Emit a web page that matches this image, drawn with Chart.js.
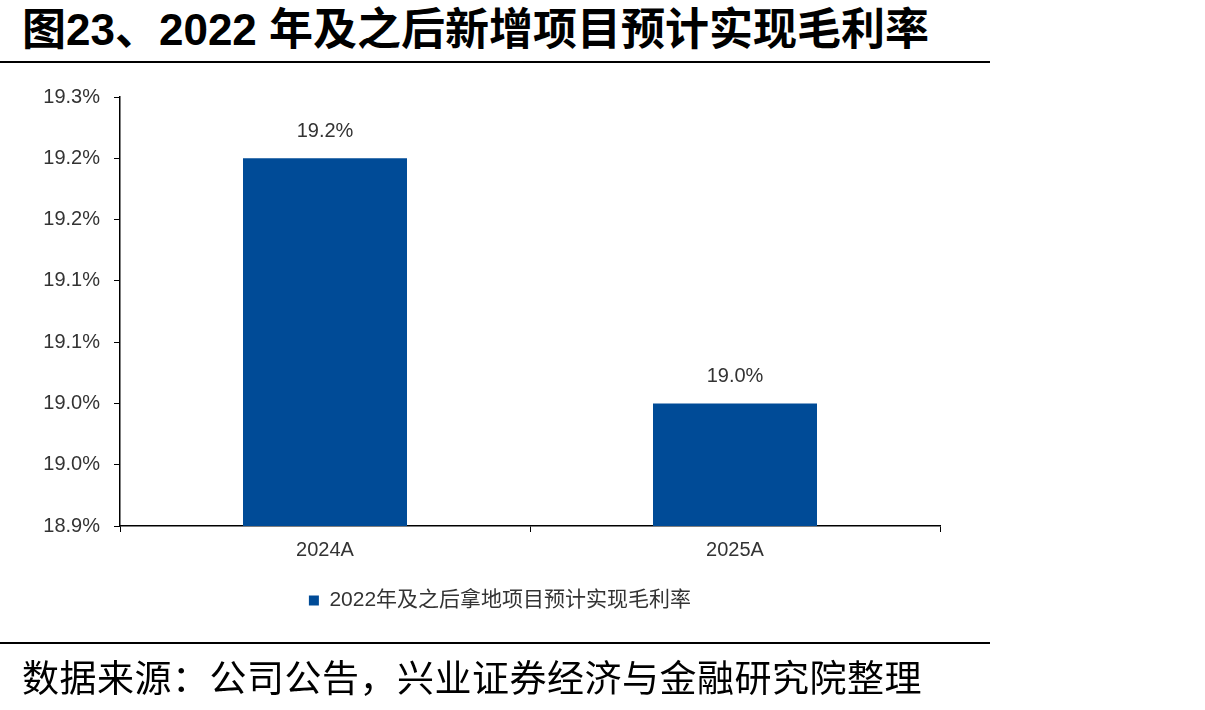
<!DOCTYPE html>
<html>
<head>
<meta charset="utf-8">
<script src="https://cdn.jsdelivr.net/npm/chart.js@4/dist/chart.umd.min.js"></script>
<style>
  html, body { margin: 0; padding: 0; background: #fff; }
  #wrap { position: relative; width: 1205px; height: 710px; overflow: hidden; }
  #title {
    position: absolute; left: 22px; top: 8px; line-height: 44px;
    font-family: "Liberation Sans", "Noto Sans CJK SC", sans-serif;
    font-weight: bold; font-size: 44px; color: #000; white-space: nowrap;
  }
  .rule { position: absolute; left: 0; width: 990px; height: 2px; background: #000; }
  #source {
    position: absolute; left: 22px; top: 656px; line-height: 40px;
    font-family: "Noto Sans CJK SC", sans-serif; font-size: 37px; letter-spacing: 0.5px;
    color: #000; white-space: nowrap;
  }
  canvas { position: absolute; left: 0; top: 0; }
</style>
</head>
<body>
<div id="wrap">
  <div id="title">图23、2022 年及之后新增项目预计实现毛利率</div>
  <div class="rule" style="top:61px"></div>
  <canvas id="chart" width="1205" height="710"></canvas>
  <div class="rule" style="top:642px"></div>
  <div id="source">数据来源：公司公告，兴业证券经济与金融研究院整理</div>
</div>
<script>
// values
const categories = ['2024A', '2025A'];
const seriesName = '2022年及之后拿地项目预计实现毛利率';
const margins = [19.2, 19.0];
const yTickLabels = ['18.9%', '19.0%', '19.0%', '19.1%', '19.1%', '19.2%', '19.2%', '19.3%'];

const txtFont = '"Liberation Sans", "Noto Sans CJK SC", sans-serif';

// value labels above the bars
const barLabels = {
  id: 'barLabels',
  afterDatasetsDraw(chart) {
    const ctx = chart.ctx;
    const meta = chart.getDatasetMeta(0);
    ctx.save();
    ctx.font = '20px ' + txtFont;
    ctx.fillStyle = '#333';
    ctx.textAlign = 'center';
    ctx.textBaseline = 'middle';
    meta.data.forEach((bar, i) => {
      ctx.fillText(margins[i].toFixed(1) + '%', bar.x, bar.y - 27);
    });
    ctx.restore();
  }
};

new Chart(document.getElementById('chart'), {
  type: 'bar',
  data: {
    labels: categories,
    datasets: [{
      label: seriesName,
      data: margins,
      backgroundColor: '#004B97',
      borderWidth: 0,
      categoryPercentage: 1,
      barPercentage: 0.4
    }]
  },
  options: {
    responsive: false,
    animation: false,
    devicePixelRatio: 1,
    layout: { padding: { left: 0, right: 205, top: 97, bottom: 89 } },
    plugins: {
      tooltip: { enabled: false },
      legend: {
        position: 'bottom',
        labels: {
          color: '#333',
          font: { family: txtFont, size: 21 },
          boxWidth: 10,
          boxHeight: 10,
          padding: 14
        }
      }
    },
    scales: {
      x: {
        grid: { drawOnChartArea: false, drawTicks: true, tickLength: 6, tickColor: '#000' },
        border: { display: true, color: '#000', width: 1.5 },
        ticks: { color: '#333', font: { family: txtFont, size: 20 }, padding: 6 },
        afterFit(scale) { scale.height = 50; }
      },
      y: {
        min: 18.9,
        max: 19.25,
        grid: { drawOnChartArea: false, drawTicks: true, tickLength: 6, tickColor: '#000' },
        border: { display: true, color: '#000', width: 1.5 },
        ticks: {
          stepSize: 0.05,
          color: '#333',
          font: { family: txtFont, size: 20 },
          padding: 14,
          callback: function(value, index) { return yTickLabels[index]; }
        },
        afterFit(scale) { scale.width = 120; }
      },
      // empty spacer on the right so the legend centres like the original
      spacer: {
        position: 'right',
        grid: { display: false },
        border: { display: false },
        ticks: { display: false },
        afterFit(scale) { scale.width = 60; }
      }
    }
  },
  plugins: [barLabels]
});
</script>
</body>
</html>
